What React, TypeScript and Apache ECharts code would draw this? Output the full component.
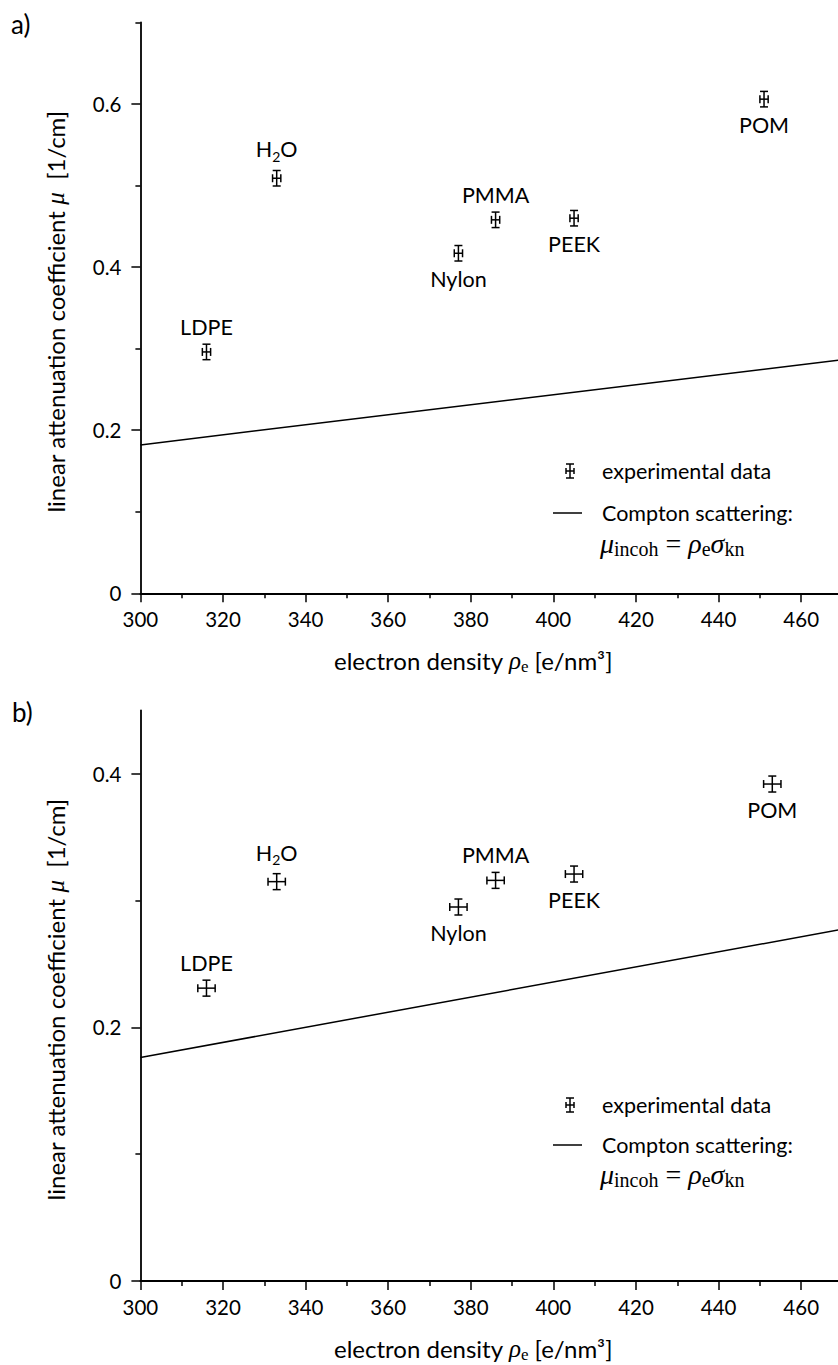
import React, { useEffect, useRef } from "react";
import * as echarts from "echarts";

// ---------- data ----------
const materials = ["LDPE", "H2O", "Nylon", "PMMA", "PEEK", "POM"];
const labelSide = ["top", "top", "bottom", "top", "bottom", "bottom"];

const densityA = [316, 333, 377, 386, 405, 451];
const muA = [0.296, 0.509, 0.417, 0.458, 0.46, 0.606];
const errDensityA = [1, 1, 1, 1, 1, 1];
const errMuA = [0.0095, 0.0095, 0.0095, 0.0095, 0.0095, 0.0095];

const densityB = [316, 333, 377, 386, 405, 453];
const muB = [0.231, 0.315, 0.295, 0.316, 0.321, 0.392];
const errDensityB = [2.1, 2.1, 2.1, 2.1, 2.1, 2.1];
const errMuB = [0.0063, 0.0063, 0.0063, 0.0063, 0.0063, 0.0063];

const comptonX = [300, 470];
const comptonA = [0.182, 0.2865];
const comptonB = [0.1763, 0.2775];

const yMajorA = [0, 0.2, 0.4, 0.6];
const yMinorA = [0.1, 0.3, 0.5, 0.7];
const yMajorB = [0, 0.2, 0.4];
const yMinorB = [0.1, 0.3];

const FONT = "Lato";
const SERIF = "Liberation Serif";
const BLACK = "#000";

const TITLE_SIZE = 24;
const TICK_SIZE = 20.5;
const LABEL_SIZE = 21.5;

const mathRich = {
  t: { fontFamily: FONT, fontSize: TITLE_SIZE, color: BLACK, lineHeight: 30 },
  m: { fontFamily: SERIF, fontStyle: "italic", fontSize: 25, color: BLACK, lineHeight: 30 },
  s: { fontFamily: SERIF, fontSize: 17, color: BLACK, lineHeight: 30, verticalAlign: "bottom" },
  g: { width: 8, lineHeight: 30 },
};

const labelRich = {
  n: { fontFamily: FONT, fontSize: LABEL_SIZE, fill: BLACK, lineHeight: 28 },
  s: { fontFamily: FONT, fontSize: 14, fill: BLACK, lineHeight: 28, verticalAlign: "bottom" },
};

function errorSeries(gridNo: number, xs: number[], ys: number[], ex: number[], ey: number[]) {
  return {
    type: "custom",
    xAxisIndex: gridNo,
    yAxisIndex: gridNo * 2,
    data: xs.map((x, i) => [x, ys[i], ex[i], ey[i]]),
    renderItem: (params: any, api: any) => {
      const idx = params.dataIndex;
      const x = api.value(0);
      const y = api.value(1);
      const dx = api.value(2);
      const dy = api.value(3);
      const c = api.coord([x, y]);
      const l = api.coord([x - dx, y]);
      const r = api.coord([x + dx, y]);
      const t = api.coord([x, y + dy]);
      const b = api.coord([x, y - dy]);
      const cap = 4;
      const st = { stroke: BLACK, lineWidth: 1.5 };
      const ln = (x1: number, y1: number, x2: number, y2: number) => ({
        type: "line",
        shape: { x1, y1, x2, y2 },
        style: st,
      });
      const name = materials[idx];
      const isTop = labelSide[idx] === "top";
      const off = name === "H2O" ? -29 : isTop ? -25 : 26;
      const text = name === "H2O" ? "{n|H}{s|2}{n|O}" : `{n|${name}}`;
      return {
        type: "group",
        children: [
          ln(l[0], l[1], r[0], r[1]),
          ln(t[0], t[1], b[0], b[1]),
          ln(l[0], l[1] - cap, l[0], l[1] + cap),
          ln(r[0], r[1] - cap, r[0], r[1] + cap),
          ln(t[0] - cap, t[1], t[0] + cap, t[1]),
          ln(b[0] - cap, b[1], b[0] + cap, b[1]),
          {
            type: "text",
            x: c[0],
            y: c[1] + off,
            style: { text, rich: labelRich, fill: BLACK, align: "center", verticalAlign: "middle" },
          },
        ],
      };
    },
    z: 3,
  };
}

function comptonSeries(gridNo: number, ys: number[]) {
  return {
    type: "line",
    xAxisIndex: gridNo,
    yAxisIndex: gridNo * 2,
    symbol: "none",
    data: comptonX.map((x, i) => [x, ys[i]]),
    lineStyle: { color: BLACK, width: 1.5 },
    z: 2,
  };
}

const axisLine = { show: true, onZero: false, lineStyle: { color: BLACK, width: 1.8 } };

function xAxis(gridNo: number) {
  return {
    type: "value",
    gridIndex: gridNo,
    min: 300,
    max: 480,
    interval: 20,
    axisLine,
    axisTick: { show: true, length: 9, lineStyle: { color: BLACK, width: 1.5 } },
    minorTick: { show: true, splitNumber: 2, length: 5, lineStyle: { color: BLACK, width: 1.5 } },
    splitLine: { show: false },
    minorSplitLine: { show: false },
    axisLabel: {
      color: BLACK,
      fontFamily: FONT,
      fontSize: TICK_SIZE,
      margin: 15,
      formatter: (v: number) => (v > 460 ? "" : String(v)),
    },
    name: "{t|electron density }{m|ρ}{s|e}{t| [e/nm³]}",
    nameLocation: "middle",
    nameGap: 52,
    nameTextStyle: { color: BLACK, fontFamily: FONT, fontSize: TITLE_SIZE, rich: mathRich, padding: [0, 78, 0, 0] },
  };
}

function yAxes(gridNo: number, max: number, majors: number[], minors: number[]) {
  return [
    {
      type: "value",
      gridIndex: gridNo,
      position: "left",
      min: 0,
      max,
      axisLine,
      axisTick: { show: true, length: 5, customValues: minors, lineStyle: { color: BLACK, width: 1.5 } },
      axisLabel: { show: false },
      splitLine: { show: false },
      name: "{t|linear attenuation coefficient }{m|μ}{t|  [1/cm]}{g|}",
      nameLocation: "middle",
      nameGap: 70,
      nameTextStyle: { color: BLACK, fontFamily: FONT, fontSize: TITLE_SIZE, rich: mathRich },
    },
    {
      type: "value",
      gridIndex: gridNo,
      position: "left",
      min: 0,
      max,
      axisLine: { show: false },
      axisTick: { show: true, length: 9, customValues: majors, lineStyle: { color: BLACK, width: 1.5 } },
      axisLabel: { show: true, customValues: majors, color: BLACK, fontFamily: FONT, fontSize: TICK_SIZE, margin: 19 },
      splitLine: { show: false },
    },
  ];
}

const formulaText = "{m|μ}{s|incoh}{e| = }{m|ρ}{s|e}{m|σ}{s|kn}";
const formulaRich = {
  m: { fontFamily: SERIF, fontStyle: "italic", fontSize: 28, fill: BLACK, lineHeight: 32 },
  s: { fontFamily: SERIF, fontSize: 20, fill: BLACK, lineHeight: 32, verticalAlign: "bottom" },
  e: { fontFamily: SERIF, fontSize: 28, fill: BLACK, lineHeight: 32 },
};

function legendGraphics(y1: number, y2: number, y3: number) {
  const st = { stroke: BLACK, lineWidth: 1.5 };
  const cx = 570;
  const mk = (x1: number, yy1: number, x2: number, yy2: number) => ({
    type: "line",
    shape: { x1, y1: yy1, x2, y2: yy2 },
    style: st,
  });
  const textStyle = (text: string, y: number) => ({
    type: "text",
    x: 602,
    y,
    style: { text, fill: BLACK, font: `${LABEL_SIZE}px ${FONT}`, verticalAlign: "middle", align: "left" },
  });
  return [
    mk(cx, y1 - 7, cx, y1 + 7),
    mk(cx - 4, y1 - 7, cx + 4, y1 - 7),
    mk(cx - 4, y1 + 7, cx + 4, y1 + 7),
    mk(cx - 4, y1, cx + 4, y1),
    mk(cx - 4, y1 - 3, cx - 4, y1 + 3),
    mk(cx + 4, y1 - 3, cx + 4, y1 + 3),
    textStyle("experimental data", y1),
    mk(553, y2, 582, y2),
    textStyle("Compton scattering:", y2),
    {
      type: "text",
      x: 600,
      y: y3,
      style: { text: formulaText, rich: formulaRich, fill: BLACK, verticalAlign: "middle", align: "left" },
    },
  ];
}

export default function App() {
  const ref = useRef<HTMLDivElement>(null);
  useEffect(() => {
    if (!ref.current) return;
    const chart = echarts.init(ref.current, undefined, { renderer: "svg" });
    chart.setOption({
      animation: false,
      backgroundColor: "#fff",
      textStyle: { fontFamily: FONT },
      grid: [
        { left: 140.4, top: 22.5, width: 743.4, height: 570.8, containLabel: false, outerBoundsMode: "none" },
        { left: 140.4, top: 710.5, width: 743.4, height: 570.5, containLabel: false, outerBoundsMode: "none" },
      ],
      xAxis: [xAxis(0), xAxis(1)],
      yAxis: [...yAxes(0, 0.7, yMajorA, yMinorA), ...yAxes(1, 0.45, yMajorB, yMinorB)],
      series: [
        comptonSeries(0, comptonA),
        errorSeries(0, densityA, muA, errDensityA, errMuA),
        comptonSeries(1, comptonB),
        errorSeries(1, densityB, muB, errDensityB, errMuB),
      ],
      graphic: [
        { type: "text", x: 11, y: 24, style: { text: "a)", fill: BLACK, font: `26px ${FONT}`, verticalAlign: "middle" } },
        { type: "text", x: 12, y: 712, style: { text: "b)", fill: BLACK, font: `26px ${FONT}`, verticalAlign: "middle" } },
        ...legendGraphics(471, 513, 543),
        ...legendGraphics(1105, 1145, 1174),
      ],
    });
    return () => chart.dispose();
  }, []);
  return (
    <div
      style={{ position: "absolute", left: 0, top: 0, width: 838, height: 1365, overflow: "hidden", background: "#fff" }}
    >
      <div ref={ref} style={{ width: 838, height: 1365 }} />
    </div>
  );
}
